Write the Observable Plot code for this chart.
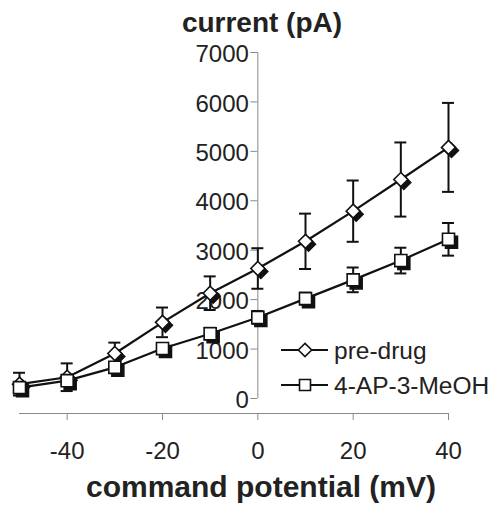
<!DOCTYPE html>
<html>
<head>
<meta charset="utf-8">
<script src="https://cdn.jsdelivr.net/npm/d3@7"></script>
<script src="https://cdn.jsdelivr.net/npm/@observablehq/plot@0.6"></script>
<style>
  html, body { margin: 0; padding: 0; background: #fff; }
  svg { font-family: "Liberation Sans", Arial, Helvetica, sans-serif; }
</style>
</head>
<body>
<div id="chart"></div>
<script>
// Data
const potentials = [-50, -40, -30, -20, -10, 0, 10, 20, 30, 40];
const preDrug    = [290, 430, 910, 1540, 2130, 2630, 3180, 3790, 4430, 5080];
const preDrugErr = [230, 280, 220, 300, 340, 410, 560, 620, 750, 900];
const drug       = [220, 360, 630, 1010, 1310, 1640, 2020, 2400, 2790, 3220];
const drugErr    = [60, 70, 90, 110, 120, 130, 120, 250, 260, 330];
const seriesNames = ["pre-drug", "4-AP-3-MeOH"];
const xTicks = [-40, -20, 0, 20, 40];
const yTicks = [0, 1000, 2000, 3000, 4000, 5000, 6000, 7000];
const xTitle = "command potential (mV)";
const yTitle = "current (pA)";

const rows = [];
potentials.forEach((v, i) => {
  rows.push({series: seriesNames[0], x: v, y: preDrug[i], e: preDrugErr[i]});
});
potentials.forEach((v, i) => {
  rows.push({series: seriesNames[1], x: v, y: drug[i], e: drugErr[i]});
});
const pre = rows.filter(d => d.series === seriesNames[0]);
const post = rows.filter(d => d.series === seriesNames[1]);

const axisGray = "#8a8a8a";
const textCol = "#222";

const chart = Plot.plot({
  width: 495,
  height: 505,
  marginLeft: 19,
  marginRight: 47,
  marginTop: 52,
  marginBottom: 92,
  x: {domain: [-50, 40], axis: null},
  y: {domain: [-304, 7000], axis: null},
  style: {fontFamily: '"Liberation Sans", Arial, sans-serif', background: "#fff"},
  marks: [
    // x axis
    Plot.frame({anchor: "bottom", stroke: axisGray}),
    Plot.axisX({ticks: xTicks, tickSize: 7, tickPadding: 21, fontSize: 24, stroke: axisGray, color: textCol, label: null, tickFormat: d => String(d)}),
    // y axis along x = 0
    Plot.ruleX([0], {y1: 0, y2: 7000, stroke: axisGray}),
    Plot.ruleY(yTicks, {y: d => d, x1: 0, x2: 0, insetLeft: -7, stroke: axisGray}),
    Plot.text(yTicks, {x: 0, y: d => d, text: d => String(d), textAnchor: "end", dx: -9, dy: 2, fontSize: 24, fill: textCol}),
    // error bars
    Plot.ruleX(rows, {x: "x", y1: d => d.y - d.e, y2: d => d.y + d.e, stroke: "#111", strokeWidth: 2}),
    Plot.ruleY(rows, {y: d => d.y + d.e, x1: "x", x2: "x", insetLeft: -6, insetRight: -6, stroke: "#111", strokeWidth: 2}),
    Plot.ruleY(rows, {y: d => d.y - d.e, x1: "x", x2: "x", insetLeft: -6, insetRight: -6, stroke: "#111", strokeWidth: 2}),
    // lines
    Plot.line(pre, {x: "x", y: "y", stroke: "#111", strokeWidth: 2.2}),
    Plot.line(post, {x: "x", y: "y", stroke: "#111", strokeWidth: 2.2}),
    // shadows
    Plot.dot(pre, {x: "x", y: "y", symbol: "diamond2", r: 6.3, fill: "#111", stroke: "#111", dx: 3, dy: 3}),
    Plot.dot(post, {x: "x", y: "y", symbol: "square", r: 6.8, fill: "#111", stroke: "#111", dx: 3, dy: 3}),
    // markers
    Plot.dot(pre, {x: "x", y: "y", symbol: "diamond2", r: 6.3, fill: "#fff", stroke: "#111", strokeWidth: 1.6}),
    Plot.dot(post, {x: "x", y: "y", symbol: "square", r: 6.8, fill: "#fff", stroke: "#111", strokeWidth: 1.6})
  ]
});

document.getElementById("chart").appendChild(chart);

const svg = d3.select(chart);
// titles
svg.append("text")
  .attr("x", 262).attr("y", 32)
  .attr("text-anchor", "middle")
  .attr("font-size", 28).attr("font-weight", "bold")
  .attr("fill", textCol)
  .text(yTitle);
svg.append("text")
  .attr("x", 261).attr("y", 497)
  .attr("text-anchor", "middle")
  .attr("font-size", 30).attr("font-weight", "bold")
  .attr("fill", textCol)
  .text(xTitle);

// legend
const legend = svg.append("g");
const legendItems = [
  {name: seriesNames[0], sym: d3.symbolDiamond2, size: Math.PI * 6 * 6, y: 350},
  {name: seriesNames[1], sym: d3.symbolSquare, size: Math.PI * 6.2 * 6.2, y: 385}
];
legendItems.forEach(it => {
  legend.append("line").attr("x1", 281).attr("x2", 328).attr("y1", it.y).attr("y2", it.y)
    .attr("stroke", "#111").attr("stroke-width", 2.2);
  legend.append("path").attr("d", d3.symbol(it.sym, it.size)())
    .attr("transform", `translate(305,${it.y})`)
    .attr("fill", "#fff").attr("stroke", "#111").attr("stroke-width", 1.6);
  legend.append("text").attr("x", 334).attr("y", it.y + 9)
    .attr("text-anchor", "start")
    .attr("font-size", 24.5).attr("fill", textCol).text(it.name);
});
</script>
</body>
</html>
